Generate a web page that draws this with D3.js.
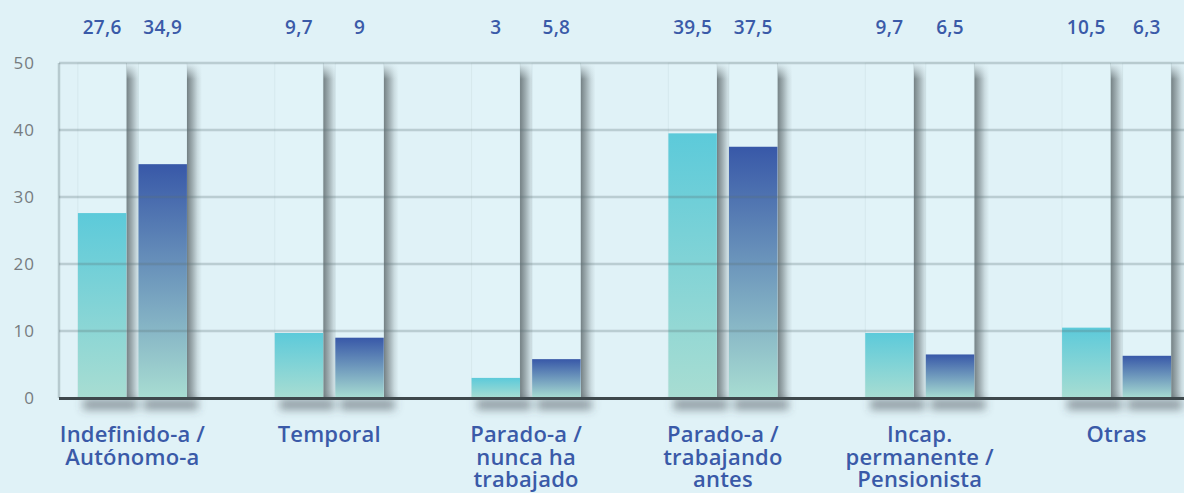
<!DOCTYPE html>
<html>
<head>
<meta charset="utf-8">
<script src="https://cdn.jsdelivr.net/npm/d3@7"></script>
<style>
  body { margin: 0; background: #e0f2f7; }
  svg { display: block; font-family: "Open Sans", sans-serif; }
  .val { fill: #3a5aa8; font-size: 19px; font-weight: 600; text-anchor: middle; letter-spacing: 0.3px; }
  .cat { fill: #3a5aa8; font-size: 22px; font-weight: 600; text-anchor: middle; letter-spacing: 0.2px; }
  .tick text { fill: #767c80; font-size: 17px; letter-spacing: 1px; }
</style>
</head>
<body>
<svg width="1184" height="493"></svg>
<script>
// chart data
var categories = ["Indefinido-a / Autónomo-a", "Temporal", "Parado-a / nunca ha trabajado",
                  "Parado-a / trabajando antes", "Incap. permanente / Pensionista", "Otras"];
var catLines = [["Indefinido-a /", "Autónomo-a"], ["Temporal"], ["Parado-a /", "nunca ha", "trabajado"],
                ["Parado-a /", "trabajando", "antes"], ["Incap.", "permanente /", "Pensionista"], ["Otras"]];
var seriesA = [27.6, 9.7, 3, 39.5, 9.7, 10.5];
var seriesB = [34.9, 9, 5.8, 37.5, 6.5, 6.3];
var valueLabelsA = ["27,6", "9,7", "3", "39,5", "9,7", "10,5"];
var valueLabelsB = ["34,9", "9", "5,8", "37,5", "6,5", "6,3"];
var yTicks = [0, 10, 20, 30, 40, 50];

var bg = "#e0f2f7";
var svg = d3.select("svg"),
    width = +svg.attr("width"),
    height = +svg.attr("height");

svg.append("rect").attr("width", width).attr("height", height).attr("fill", bg);

// gradients and shadow filter
var defs = svg.append("defs");
function grad(id, horiz, stops) {
    var g = defs.append("linearGradient").attr("id", id)
        .attr("x1", 0).attr("y1", 0).attr("x2", horiz ? 1 : 0).attr("y2", horiz ? 0 : 1);
    stops.forEach(function(s) {
        g.append("stop").attr("offset", s[0]).attr("stop-color", s[1]).attr("stop-opacity", s[2]);
    });
}
grad("gradA", false, [["0%", "#5ccada", 1], ["100%", "#a8ddd2", 1]]);
grad("gradB", false, [["0%", "#3858a8", 1], ["100%", "#a8ddd2", 1]]);
grad("sideShadow", true, [["0%", "#4a5457", 0.72], ["35%", "#4a5457", 0.45], ["70%", "#4a5457", 0.15], ["100%", "#4a5457", 0]]);
grad("topFade", false, [["0%", bg, 1], ["100%", bg, 0]]);
defs.append("filter").attr("id", "blur").attr("x", "-50%").attr("y", "-100%")
    .attr("width", "200%").attr("height", "300%")
    .append("feGaussianBlur").attr("stdDeviation", 4.5);

// scales
var x0 = d3.scaleBand().domain(categories).range([34, 1215])
        .paddingInner(0.446).paddingOuter(0.223),
    x1 = d3.scaleBand().domain(["a", "b"]).range([0, x0.bandwidth()]).paddingInner(0.2),
    y = d3.scaleLinear().domain([0, 50]).range([398, 63]);

var xLeft = 59,
    shadowW = 15;

var bars = d3.merge(categories.map(function(c, i) {
    return [
        {cat: c, key: "a", v: seriesA[i], label: valueLabelsA[i]},
        {cat: c, key: "b", v: seriesB[i], label: valueLabelsB[i]}
    ];
}));
function bx(d) { return x0(d.cat) + x1(d.key); }

// shadows below baseline
svg.append("g").attr("filter", "url(#blur)").selectAll("rect")
    .data(bars).enter().append("rect")
    .attr("x", function(d) { return bx(d) + 5; })
    .attr("y", y(0) + 1)
    .attr("width", x1.bandwidth() + 6)
    .attr("height", 11)
    .attr("fill", "#3f4c51")
    .attr("opacity", 0.5);

// side shadows
svg.append("g").selectAll("rect")
    .data(bars).enter().append("rect")
    .attr("x", function(d) { return bx(d) + x1.bandwidth(); })
    .attr("y", y(50))
    .attr("width", shadowW)
    .attr("height", y(0) - y(50))
    .attr("fill", "url(#sideShadow)");

// soften the top of the side shadows
svg.append("g").selectAll("rect")
    .data(bars).enter().append("rect")
    .attr("x", function(d) { return bx(d) + x1.bandwidth(); })
    .attr("y", y(50))
    .attr("width", shadowW)
    .attr("height", 16)
    .attr("fill", "url(#topFade)");

// columns behind bars (0 to 50)
svg.append("g").selectAll("rect")
    .data(bars).enter().append("rect")
    .attr("x", bx)
    .attr("y", y(50))
    .attr("width", x1.bandwidth())
    .attr("height", y(0) - y(50))
    .attr("fill", "#e1f3f8")
    .attr("stroke", "rgba(90,110,115,0.07)");

// bars
svg.append("g").selectAll("rect")
    .data(bars).enter().append("rect")
    .attr("x", bx)
    .attr("y", function(d) { return y(d.v); })
    .attr("width", x1.bandwidth())
    .attr("height", function(d) { return y(0) - y(d.v); })
    .attr("fill", function(d) { return d.key === "a" ? "url(#gradA)" : "url(#gradB)"; });

// gridlines on top
svg.append("g").selectAll("line")
    .data(yTicks.filter(function(t) { return t > 0; })).enter().append("line")
    .attr("x1", xLeft).attr("x2", width)
    .attr("y1", function(d) { return y(d); }).attr("y2", function(d) { return y(d); })
    .attr("stroke", "rgba(90,110,115,0.28)")
    .attr("stroke-width", 2.5);

svg.append("line")
    .attr("x1", xLeft).attr("x2", xLeft)
    .attr("y1", y(50)).attr("y2", y(0))
    .attr("stroke", "rgba(90,110,115,0.3)")
    .attr("stroke-width", 2.5);

svg.append("line")
    .attr("x1", xLeft).attr("x2", width)
    .attr("y1", y(0) + 0.5).attr("y2", y(0) + 0.5)
    .attr("stroke", "#3e484c")
    .attr("stroke-width", 3);

// y axis labels
var yAxis = d3.axisLeft(y).tickValues(yTicks).tickSize(0).tickPadding(0);
svg.append("g")
    .attr("transform", "translate(35,0)")
    .call(yAxis)
    .call(function(g) { g.select(".domain").remove(); })
    .selectAll("text")
    .attr("font-family", "Open Sans, sans-serif");

// value labels on top
svg.append("g").selectAll("text")
    .data(bars).enter().append("text")
    .attr("class", "val")
    .attr("x", function(d) { return bx(d) + x1.bandwidth() / 2; })
    .attr("y", 34)
    .text(function(d) { return d.label; });

// category labels
var cats = svg.append("g").selectAll("text")
    .data(categories).enter().append("text")
    .attr("class", "cat")
    .attr("x", function(d) { return x0(d) + x0.bandwidth() / 2; })
    .attr("y", 442);
cats.selectAll("tspan")
    .data(function(d, i) { return catLines[i]; }).enter().append("tspan")
    .attr("x", function() { return this.parentNode.getAttribute("x"); })
    .attr("dy", function(d, i) { return i === 0 ? 0 : 22.5; })
    .text(function(d) { return d; });
</script>
</body>
</html>
